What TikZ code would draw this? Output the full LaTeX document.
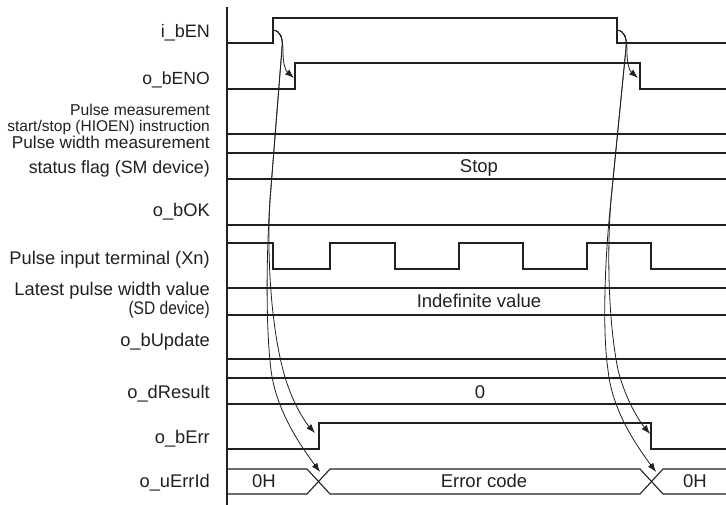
\documentclass[tikz,border=0pt]{standalone}
\usepackage{fontspec}
\setmainfont{Liberation Sans}
\usetikzlibrary{arrows.meta}
\definecolor{ink}{HTML}{231F20}
\newcommand{\fsz}[1]{\fontsize{#1}{#1}\selectfont}
\begin{document}
\begin{tikzpicture}[x=1pt,y=-1pt,
  sig/.style={line width=1.1pt, draw=ink, line join=miter},
  lbl/.style={anchor=base east, inner sep=0pt, font=\fsz{18.3}, text=ink},
  slbl/.style={anchor=base east, inner sep=0pt, font=\fsz{15.5}, text=ink},
  val/.style={anchor=base, inner sep=0pt, font=\fsz{18.5}, text=ink},
  cause/.style={line width=0.8pt, draw=ink, -{Latex[length=9pt,width=6.5pt]}},
]
\useasboundingbox (0,0) rectangle (726,505);

% time axis
\coordinate (axT) at (227,7);
\coordinate (axB) at (227,505);
\draw[sig] (axT) -- (axB);

% labels
\node[lbl, font=\fsz{18}]   (lEN)   at (210,38)  {i\_bEN};
\node[lbl, font=\fsz{17.6}] (lENO)  at (210,85)  {o\_bENO};
\node[slbl, font=\fsz{15.7}] (lHa)  at (210,116) {Pulse measurement};
\node[slbl] (lHb)   at (210,131.5) {start/stop (HIOEN) instruction};
\node[lbl, font=\fsz{17.2}] (lSMa)  at (210,148.5) {Pulse width measurement};
\node[lbl, font=\fsz{17.8}] (lSMb)  at (210,174) {status flag (SM device)};
\node[lbl]  (lOK)   at (210,217) {o\_bOK};
\node[lbl]  (lXn)   at (210,265) {Pulse input terminal (Xn)};
\node[lbl]  (lSDa)  at (210,295) {Latest pulse width value};
\node[lbl]  (lSDb)  at (210,315) {\scalebox{0.85}[1]{(SD device)}};
\node[lbl]  (lUpd)  at (210,346) {o\_bUpdate};
\node[lbl]  (lRes)  at (210,398) {o\_dResult};
\node[lbl]  (lErr)  at (210,443) {o\_bErr};
\node[lbl]  (lEId)  at (210,487) {o\_uErrId};

% i_bEN
\draw[sig] (227,43) -- (273,43) -- (273,18) -- (617,18) -- (617,43) -- (726,43);
% o_bENO
\draw[sig] (227,89) -- (295,89) -- (295,63) -- (640,63) -- (640,89) -- (726,89);
% HIOEN
\draw[sig] (227,134) -- (726,134);
% SM device
\draw[sig] (227,153) -- (726,153);
\draw[sig] (227,179) -- (726,179);
\node[val] (vStop) at (479,173) {Stop};
% o_bOK
\draw[sig] (227,225) -- (726,225);
% Xn
\draw[sig] (227,243) -- (273,243) -- (273,269) -- (330,269) -- (330,243) -- (395,243) -- (395,269)
  -- (459,269) -- (459,243) -- (523,243) -- (523,269) -- (587,269) -- (587,243) -- (651,243)
  -- (651,269) -- (726,269);
% SD device
\draw[sig] (227,288) -- (726,288);
\draw[sig] (227,315) -- (726,315);
\node[val] (vInd) at (479,308) {Indefinite value};
% o_bUpdate
\draw[sig] (227,359) -- (726,359);
% o_dResult
\draw[sig] (227,378) -- (726,378);
\draw[sig] (227,404) -- (726,404);
\node[val] (vZero) at (480,398) {0};
% o_bErr
\draw[sig] (227,449) -- (319,449) -- (319,423) -- (651,423) -- (651,449) -- (726,449);
% o_uErrId
\draw[sig] (227,469) -- (307,469) -- (330,494) -- (640,494) -- (663,469) -- (726,469);
\draw[sig] (227,494) -- (307,494) -- (330,469) -- (640,469) -- (663,494) -- (726,494);
\node[val] (vOH1) at (264,487) {0H};
\node[val] (vEC)  at (484,487) {Error code};
\node[val] (vOH2) at (695,487) {0H};

% cause arrows, rising edge
\coordinate (enR) at (273,30);
\coordinate (enoR) at (294,78);
\coordinate (errR) at (315,433);
\coordinate (eidR) at (320,472);
\draw[cause] (enR) .. controls (281,31) and (283,40) .. (283,52)
  .. controls (283,65) and (286,71) .. (enoR);
\draw[cause] (enR) .. controls (281,31) and (283,38) .. (282,48) -- (270,200)
  .. controls (267,250) and (270,320) .. (283,370)
  .. controls (291,401) and (305,422) .. (errR);
\draw[cause] (enR) .. controls (281,31) and (283,38) .. (282,48) -- (270,200)
  .. controls (266,260) and (266,330) .. (271,370)
  .. controls (276,410) and (300,445) .. (eidR);

% cause arrows, falling edge
\coordinate (enF) at (617,30);
\coordinate (enoF) at (638,78);
\coordinate (errF) at (650,434);
\coordinate (eidF) at (656,472);
\draw[cause] (enF) .. controls (625,31) and (627,40) .. (627,52)
  .. controls (627,65) and (630,71) .. (enoF);
\draw[cause] (enF) .. controls (625,31) and (627,38) .. (626,48) -- (611,200)
  .. controls (607,250) and (608,320) .. (618,370)
  .. controls (626,401) and (640,422) .. (errF);
\draw[cause] (enF) .. controls (625,31) and (627,38) .. (626,48) -- (611,200)
  .. controls (605,255) and (602,330) .. (608,370)
  .. controls (612,410) and (636,445) .. (eidF);
\end{tikzpicture}
\end{document}
